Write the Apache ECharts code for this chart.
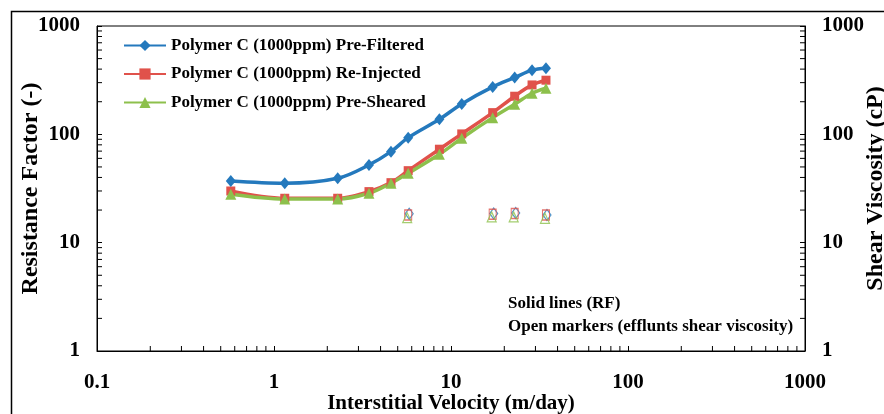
<!DOCTYPE html>
<html>
<head>
<meta charset="utf-8">
<script src="https://cdn.jsdelivr.net/npm/echarts@6/dist/echarts.min.js"></script>
<style>
  html, body { margin: 0; padding: 0; background: #fff; }
  #chart { width: 884px; height: 414px; }
</style>
</head>
<body>
<div id="chart"></div>
<script>
// Interstitial velocity (m/day) for each injection step
const velocity = [0.57, 1.15, 2.29, 3.44, 4.58, 5.73, 8.6, 11.5, 17.2, 22.9, 28.7, 34.4];

// Resistance factor (-) per polymer sample
const rfPreFiltered = [37.1, 35.4, 39.3, 52.2, 69.2, 93.2, 137.9, 190.9, 274, 334, 391, 408];
const rfReInjected  = [30.0, 25.7, 25.7, 29.6, 35.8, 46.2, 72.9, 100.9, 158.6, 224.8, 285.8, 316];
const rfPreSheared  = [28.0, 25.3, 25.3, 28.6, 35.4, 43.7, 65.5, 92.0, 142.6, 189.7, 239.6, 266.5];

// Effluent shear viscosity (cP), sampled at selected velocities
const viscVelocity    = [5.73, 17.2, 22.9, 34.4];
const viscPreFiltered = [18.5, 18.6, 18.8, 18.0];
const viscReInjected  = [18.0, 18.3, 18.6, 18.0];
const viscPreSheared  = [17.0, 17.3, 17.3, 16.8];

const seriesNames = [
  'Polymer C (1000ppm) Pre-Filtered',
  'Polymer C (1000ppm) Re-Injected',
  'Polymer C (1000ppm) Pre-Sheared'
];

// Axis ranges
const xDecades = [0.1, 1, 10, 100];
const yDecades = [1, 10, 100];

// Intermediate log tick positions (2..9 within each decade)
function minorTicks(decades) {
  const out = [];
  decades.forEach(d => { for (let m = 2; m <= 9; m++) out.push(+(d * m).toPrecision(3)); });
  return out;
}
const minorX = minorTicks(xDecades);
const minorY = minorTicks(yDecades);

const BLUE = '#2479bd', RED = '#e0524b', GREEN = '#8dc04c';
const FONT = '"Liberation Serif", "Times New Roman", serif';
const TICK = 5;

function tickSeries(data, dir) {
  return {
    type: 'custom',
    coordinateSystem: 'cartesian2d',
    xAxisIndex: 0, yAxisIndex: 0,
    silent: true, clip: false, z: 1,
    data: data,
    renderItem: function (params, api) {
      const p = api.coord([api.value(0), api.value(1)]);
      let x2 = p[0], y2 = p[1];
      if (dir === 'up') y2 -= TICK;
      if (dir === 'right') x2 += TICK;
      if (dir === 'left') x2 -= TICK;
      return { type: 'line', shape: { x1: p[0], y1: p[1], x2: x2, y2: y2 },
               style: { stroke: '#000', lineWidth: 1 } };
    }
  };
}

function toPairs(xs, ys) { return xs.map((x, i) => [x, ys[i]]); }
const plainNumber = v => String(v);

const axisText = { fontFamily: FONT, fontWeight: 'bold', fontSize: 21, color: '#000', formatter: plainNumber };
const xNameText = { fontFamily: FONT, fontWeight: 'bold', fontSize: 21, color: '#000' };
const yNameText = { fontFamily: FONT, fontWeight: 'bold', fontSize: 24, color: '#000' };

const chart = echarts.init(document.getElementById('chart'), null, { renderer: 'canvas' });
chart.setOption({
  backgroundColor: '#fff',
  animation: false,
  grid: { left: 97, right: 79, top: 26, bottom: 63, outerBoundsMode: 'none', containLabel: false,
          show: true, borderColor: '#000', borderWidth: 1, backgroundColor: 'transparent' },
  legend: {
    orient: 'vertical', left: 118, top: 32,
    itemWidth: 42, itemHeight: 14, itemGap: 11.5,
    data: seriesNames,
    textStyle: { fontFamily: FONT, fontWeight: 'bold', fontSize: 17, lineHeight: 14, color: '#000' }
  },
  xAxis: {
    type: 'log', logBase: 10, min: 0.1, max: 1000,
    name: 'Interstitial Velocity (m/day)', nameLocation: 'middle', nameGap: 42, nameMoveOverlap: false,
    nameTextStyle: xNameText,
    axisLine: { lineStyle: { color: '#000', width: 1 } },
    axisTick: { inside: true, length: TICK, lineStyle: { color: '#000' } },
    axisLabel: Object.assign({ margin: 21 }, axisText),
    splitLine: { show: false }
  },
  yAxis: [
    {
      type: 'log', logBase: 10, min: 1, max: 1000, position: 'left',
      name: 'Resistance Factor (-)', nameLocation: 'middle', nameGap: 54, nameMoveOverlap: false,
      nameTextStyle: yNameText,
      axisLine: { show: true, lineStyle: { color: '#000', width: 1 } },
      axisTick: { inside: true, length: TICK, lineStyle: { color: '#000' } },
      axisLabel: Object.assign({ margin: 17 }, axisText),
      splitLine: { show: false }
    },
    {
      type: 'log', logBase: 10, min: 1, max: 1000, position: 'right',
      name: 'Shear Viscosity (cP)', nameLocation: 'middle', nameGap: 59, nameMoveOverlap: false,
      nameTextStyle: yNameText,
      axisLine: { show: true, lineStyle: { color: '#000', width: 1 } },
      axisTick: { inside: true, length: TICK, lineStyle: { color: '#000' } },
      axisLabel: Object.assign({ margin: 17 }, axisText),
      splitLine: { show: false }
    }
  ],
  graphic: [
    { type: 'rect', left: 9, top: 9, shape: { width: 1000, height: 1000 },
      style: { fill: 'none', stroke: '#000', lineWidth: 1.5 }, silent: true, z: -1 },
    { type: 'text', left: 508, top: 295,
      style: { text: 'Solid lines (RF)', font: 'bold 17px ' + FONT, fill: '#000' } },
    { type: 'text', left: 508, top: 318,
      style: { text: 'Open markers (efflunts shear viscosity)', font: 'bold 17px ' + FONT, fill: '#000' } }
  ],
  series: [
    tickSeries(minorX.map(v => [v, 1]), 'up'),
    tickSeries(minorY.map(v => [0.1, v]), 'right'),
    tickSeries(minorY.map(v => [1000, v]), 'left'),
    {
      name: seriesNames[0], type: 'line', yAxisIndex: 0, smooth: 0.35,
      data: toPairs(velocity, rfPreFiltered),
      symbol: 'diamond', symbolSize: [10, 12],
      lineStyle: { color: BLUE, width: 3.5 }, itemStyle: { color: BLUE }, z: 4
    },
    {
      name: seriesNames[1], type: 'line', yAxisIndex: 0, smooth: 0.35,
      data: toPairs(velocity, rfReInjected),
      symbol: 'rect', symbolSize: 9,
      lineStyle: { color: RED, width: 3.5 }, itemStyle: { color: RED }, z: 3
    },
    {
      name: seriesNames[2], type: 'line', yAxisIndex: 0, smooth: 0.35,
      data: toPairs(velocity, rfPreSheared),
      symbol: 'triangle', symbolSize: 11,
      lineStyle: { color: GREEN, width: 3.5 }, itemStyle: { color: GREEN }, z: 3
    },
    {
      name: 'visc-pf', type: 'scatter', yAxisIndex: 1,
      data: toPairs(viscVelocity, viscPreFiltered),
      symbol: 'diamond', symbolSize: [8, 11], symbolOffset: [1, 0],
      itemStyle: { color: 'rgba(255,255,255,0)', borderColor: BLUE, borderWidth: 1.2 }, z: 5
    },
    {
      name: 'visc-ri', type: 'scatter', yAxisIndex: 1,
      data: toPairs(viscVelocity, viscReInjected),
      symbol: 'rect', symbolSize: [7, 10],
      itemStyle: { color: 'rgba(255,255,255,0)', borderColor: RED, borderWidth: 1.2 }, z: 5
    },
    {
      name: 'visc-ps', type: 'scatter', yAxisIndex: 1,
      data: toPairs(viscVelocity, viscPreSheared),
      symbol: 'triangle', symbolSize: [9, 10], symbolOffset: [-1, 0],
      itemStyle: { color: 'rgba(255,255,255,0)', borderColor: GREEN, borderWidth: 1.2 }, z: 5
    }
  ]
});
</script>
</body>
</html>
